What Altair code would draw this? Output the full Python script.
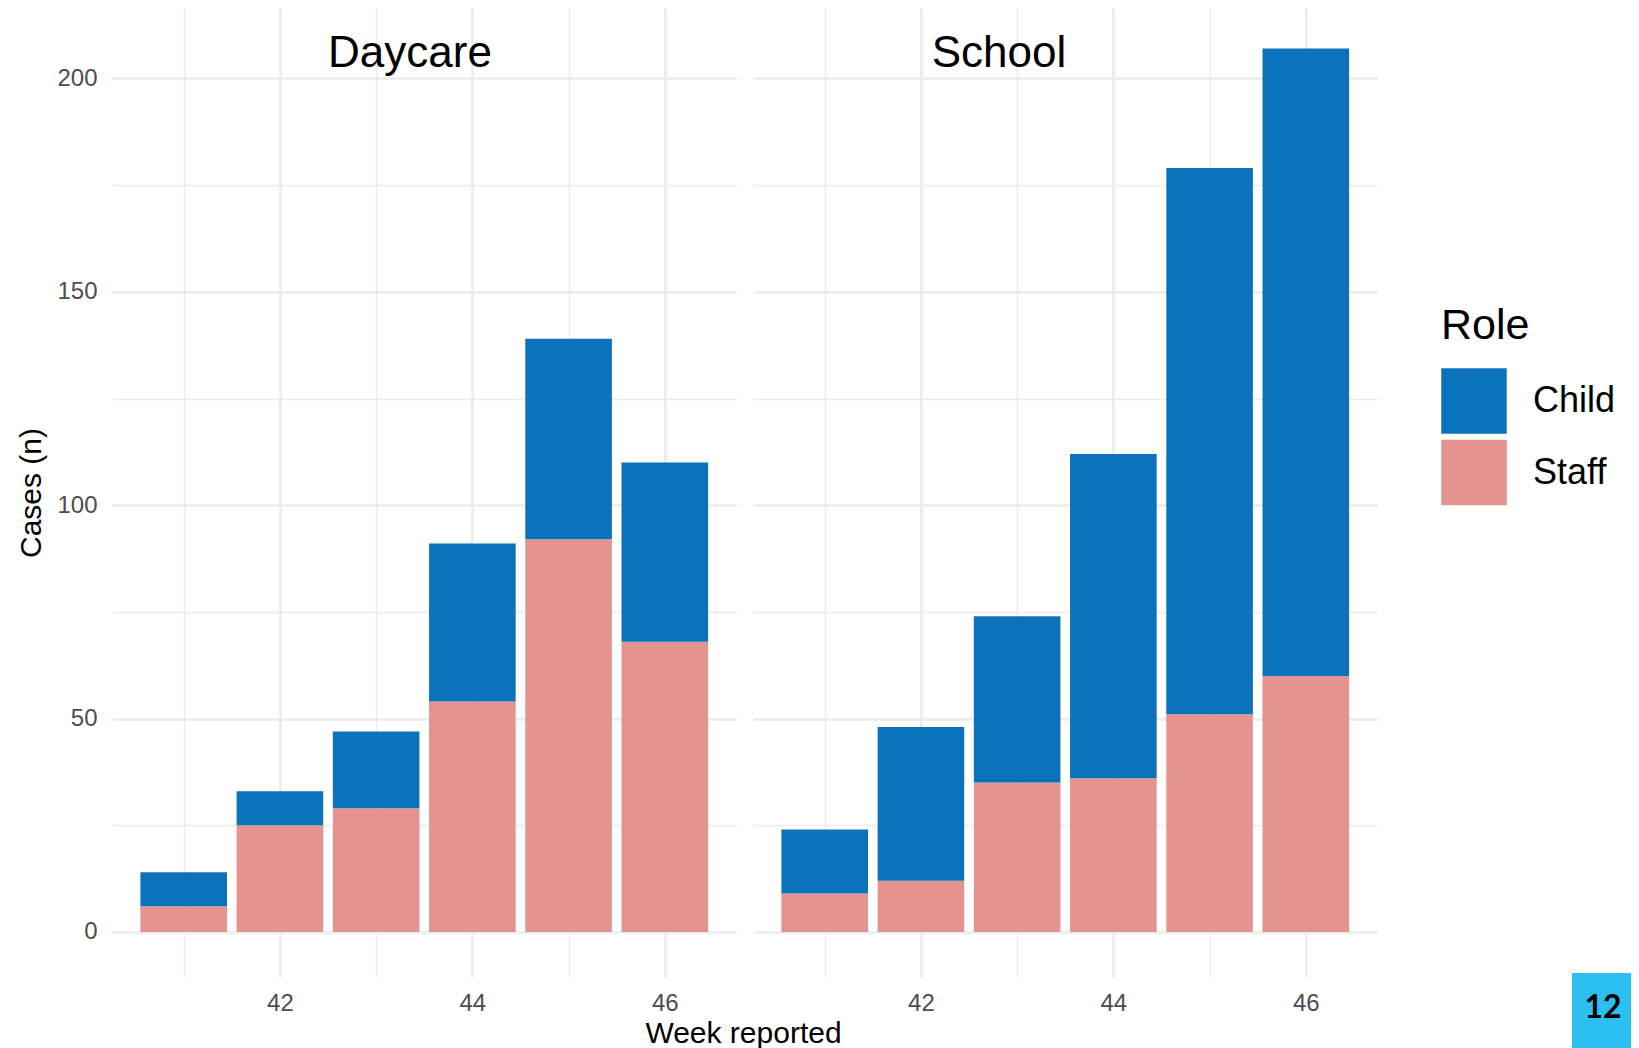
import altair as alt
import pandas as pd

# ---- data ----
weeks = [41, 42, 43, 44, 45, 46]
daycare_staff = [6, 25, 29, 54, 92, 68]
daycare_child = [8, 8, 18, 37, 47, 42]
school_staff = [9, 12, 35, 36, 51, 60]
school_child = [15, 36, 39, 76, 128, 147]
roles = ["Child", "Staff"]
role_colors = ["#0B73BB", "#E4938F"]
y_ticks = [0, 25, 50, 75, 100, 125, 150, 175, 200]
x_ticks = [41, 42, 43, 44, 45, 46]
panel_titles = ["Daycare", "School"]
slide_number = ["12"]

FONT = "Liberation Sans"
PANEL_W = 624.5
PANEL_H = 969


def frame(staff, child):
    rows = []
    for w, s, c in zip(weeks, staff, child):
        rows.append({"week": w, "Role": "Staff", "y0": 0, "y1": s})
        rows.append({"week": w, "Role": "Child", "y0": s, "y1": s + c})
    return pd.DataFrame(rows)


xscale = alt.Scale(domain=[40.255, 46.745], nice=False, zero=False)
yscale = alt.Scale(domain=[-10.55, 216.5], nice=False, zero=False)

grid_y = {"condition": {"test": "datum.value % 50 === 0", "value": 2.6}, "value": 1.3}
grid_x = {"condition": {"test": "datum.value % 2 === 0", "value": 2.6}, "value": 1.3}


def x_axis(with_title):
    kw = dict(
        values=x_ticks,
        labelExpr="datum.value % 2 === 0 ? datum.label : ''",
        grid=True, gridColor="#EBEBEB", gridWidth=grid_x,
        ticks=False, tickSize=0, domain=False,
        labelFont=FONT, labelFontSize=24, labelColor="#4D4D4D",
        labelPadding=14, labelOverlap=False, labelFlush=False,
        format="d",
    )
    if with_title:
        kw.update(title="Week reported", titleFont=FONT, titleFontSize=30,
                  titleFontWeight="normal", titleColor="black",
                  titleX=631, titleY=41, titleAlign="center",
                  titleBaseline="top")
    else:
        kw.update(title=None)
    return alt.Axis(**kw)


def y_axis(show):
    if show:
        return alt.Axis(
            values=y_ticks,
            labelExpr="datum.value % 50 === 0 ? datum.label : ''",
            grid=True, gridColor="#EBEBEB", gridWidth=grid_y,
            ticks=False, tickSize=0, domain=False,
            labelFont=FONT, labelFontSize=24, labelColor="#4D4D4D",
            labelPadding=15, labelOverlap=False, labelFlush=False,
            title="Cases (n)", titleFont=FONT, titleFontSize=30,
            titleFontWeight="normal", titleColor="black", titlePadding=10,
        )
    return alt.Axis(
        values=y_ticks, labels=False, ticks=False, tickSize=0, domain=False,
        grid=True, gridColor="#EBEBEB", gridWidth=grid_y, title=None,
    )


def panel(df, title, title_x, left):
    bars = alt.Chart(df).transform_calculate(
        xa="datum.week - 0.45", xb="datum.week + 0.45"
    ).mark_bar().encode(
        x=alt.X("xa:Q", scale=xscale, axis=x_axis(left)),
        x2="xb:Q",
        y=alt.Y("y0:Q", scale=yscale, axis=y_axis(left)),
        y2="y1:Q",
        color=alt.Color("Role:N", scale=alt.Scale(domain=roles, range=role_colors),
                        legend=alt.Legend(title="Role")),
    )
    head = alt.Chart(pd.DataFrame({"t": [title]})).mark_text(
        font=FONT, fontSize=44, color="black", align="center", baseline="alphabetic"
    ).encode(text="t:N", x=alt.value(title_x), y=alt.value(58.7))
    return alt.layer(bars, head).properties(width=PANEL_W, height=PANEL_H)


left = panel(frame(daycare_staff, daycare_child), panel_titles[0], 298, True)

badge_df = pd.DataFrame({"t": slide_number})
badge_box = alt.Chart(badge_df).mark_rect(color="#2BC0F0").encode(
    x=alt.value(819), x2=alt.value(878), y=alt.value(965), y2=alt.value(1040)
)
badge_txt = alt.Chart(badge_df).mark_text(
    font="Lato", fontWeight="bold", fontSize=32, color="black",
    align="center", baseline="middle"
).encode(text="t:N", x=alt.value(850), y=alt.value(1000))

right = alt.layer(
    panel(frame(school_staff, school_child), panel_titles[1], 246, False),
    badge_box, badge_txt,
).properties(width=PANEL_W, height=PANEL_H)

chart = alt.hconcat(left, right, spacing=16, bounds="flush").properties(
    padding={"left": 8, "top": 0, "right": 0, "bottom": 0}
).configure_view(stroke=None).configure_legend(
    orient="none", legendX=1329, legendY=297,
    titleFont=FONT, titleFontSize=43, titleFontWeight="normal", titleColor="black",
    titlePadding=20,
    labelFont=FONT, labelFontSize=36, labelColor="black", labelOffset=26,
    symbolType="square", symbolSize=4290, symbolStrokeWidth=0, symbolOpacity=1,
    rowPadding=5.5, padding=0,
)

chart.save("out.html", embed_options={"renderer": "svg", "actions": False})
